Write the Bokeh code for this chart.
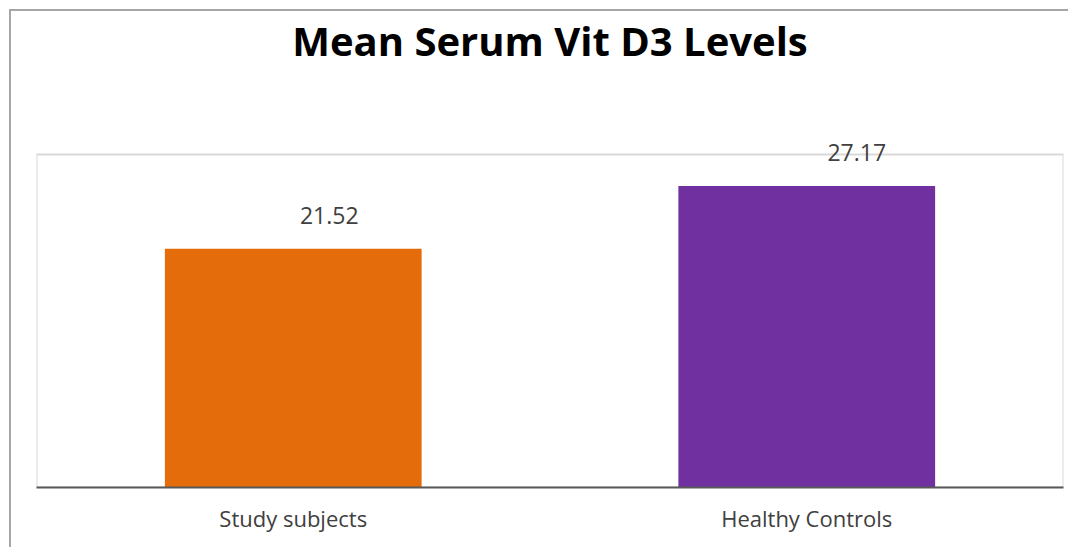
from bokeh.plotting import figure
from bokeh.models import Label, FactorRange, Range1d, ColumnDataSource
from bokeh.embed import file_html
from bokeh.resources import INLINE

categories = ["Study subjects", "Healthy Controls"]
values = [21.52, 27.17]
colors = ["#E46C0A", "#7030A0"]
title_text = "Mean Serum Vit D3 Levels"

y_axis_max = 30
# frame extends above the plot-area box so the title and labels are not clipped
y_frame_top = y_axis_max * 473 / 333

src = ColumnDataSource(dict(cat=categories, val=values, color=colors))

p = figure(x_range=FactorRange(*categories), y_range=Range1d(0, y_frame_top),
           width=1059, height=538, output_backend="svg", toolbar_location=None,
           min_border_left=25, min_border_right=7, min_border_top=3, min_border_bottom=62)
p.styles = {"margin-left": "9px", "margin-top": "9px",
            "border-left": "2px solid #a6a6a6", "border-top": "2px solid #a6a6a6"}

# plot-area box
p.quad(left=0, right=len(categories), bottom=0, top=y_axis_max, fill_color=None,
       line_color="#d9d9d9", line_width=2)

p.vbar(x="cat", top="val", bottom=0, width=0.5, fill_color="color", line_color=None, source=src)

p.xgrid.visible = False
p.ygrid.visible = False
p.yaxis.visible = False
p.outline_line_color = None

ax = p.xaxis[0]
ax.axis_line_color = "#595959"
ax.axis_line_width = 2
ax.major_tick_line_color = None
ax.minor_tick_line_color = None
ax.major_label_text_font = "Open Sans"
ax.major_label_text_font_size = "22px"
ax.major_label_text_color = "#404040"
ax.major_label_standoff = 9

x_shift = [36, 50]
for i, v in enumerate(values):
    p.add_layout(Label(x=i + 0.5, y=v, text=f"{v:.2f}", x_offset=x_shift[i], y_offset=33,
                       text_align="center", text_baseline="alphabetic",
                       text_font="Open Sans", text_font_size="23px", text_color="#404040"))

p.add_layout(Label(x=len(categories) / 2, y=y_axis_max, text=title_text, y_offset=114,
                   text_align="center", text_baseline="alphabetic", text_font="Open Sans",
                   text_font_style="bold", text_font_size="40px", text_color="#000000"))

open("out.html", "w").write(file_html(p, INLINE))
